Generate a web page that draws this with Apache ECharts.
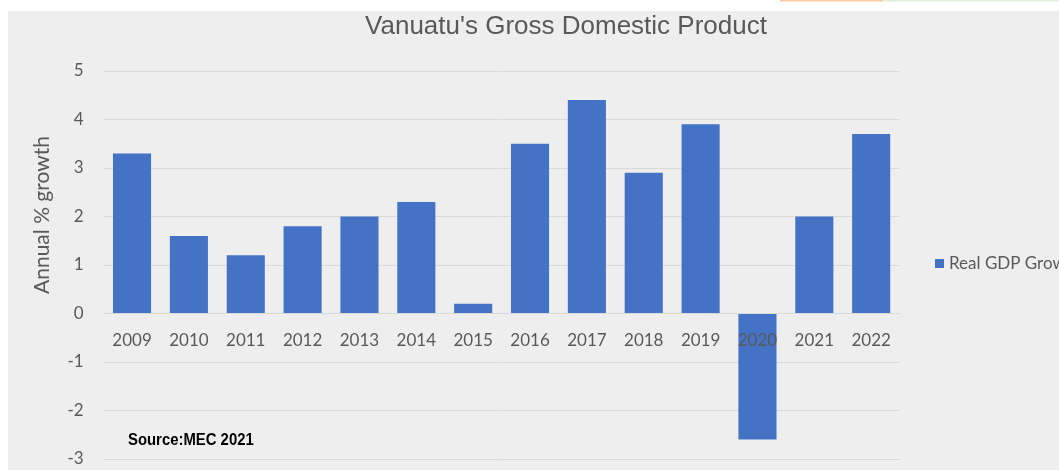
<!DOCTYPE html>
<html>
<head>
<meta charset="utf-8">
<script src="https://cdn.jsdelivr.net/npm/echarts@6/dist/echarts.min.js"></script>
<style>
html,body{margin:0;padding:0;background:#fff;}
#c{width:1059px;height:470px;}
</style>
</head>
<body>
<div id="c"></div>
<script>
var categories = ['2009','2010','2011','2012','2013','2014','2015','2016','2017','2018','2019','2020','2021','2022'];
var gdpGrowth = [3.3, 1.6, 1.2, 1.8, 2.0, 2.3, 0.2, 3.5, 4.4, 2.9, 3.9, -2.6, 2.0, 3.7];
var seriesName = 'Real GDP Growth';
var titleText = "Vanuatu's Gross Domestic Product";
var yAxisTitle = 'Annual % growth';
var sourceText = 'Source:MEC 2021';
var yMin = -3, yMax = 5;

var gridTop = 71, gridBottom = 11, H = 470;
var unitPx = (H - gridTop - gridBottom) / (yMax - yMin);

var chart = echarts.init(document.getElementById('c'));
chart.setOption({
  backgroundColor: '#ffffff',
  animation: false,
  title: {
    text: titleText,
    left: 561, top: 9, textAlign: 'center',
    textStyle: {fontFamily: 'Liberation Sans', fontSize: 26, fontWeight: 'normal', color: '#595959'}
  },
  legend: {
    data: [seriesName],
    left: 935, top: 255, padding: 0,
    itemWidth: 9, itemHeight: 9, itemGap: 5,
    icon: 'rect',
    textStyle: {fontFamily: 'Lato', fontSize: 17, color: '#595959'}
  },
  grid: {left: 103.6, right: 159.4, top: gridTop, bottom: gridBottom, containLabel: false, outerBoundsMode: 'none'},
  xAxis: {
    type: 'category',
    data: categories,
    offset: yMin * unitPx,
    axisLine: {onZero: false, lineStyle: {color: '#d9d9d9', width: 1}},
    axisTick: {show: false},
    axisLabel: {margin: 19, fontFamily: 'Lato', fontSize: 17, color: '#595959'},
    z: 3
  },
  yAxis: {
    type: 'value',
    min: yMin, max: yMax, interval: 1,
    axisLine: {show: false},
    axisTick: {show: false},
    axisLabel: {margin: 20, fontFamily: 'Lato', fontSize: 17, color: '#595959'},
    splitLine: {lineStyle: {color: '#d9d9d9', width: 1}}
  },
  graphic: [
    {type: 'rect', z: -10, silent: true, shape: {x: 8, y: 11, width: 1051, height: 459}, style: {fill: '#eeeeee'}},
    {type: 'rect', z: -9, silent: true, shape: {x: 780, y: 0, width: 103, height: 1.5}, style: {fill: '#f8c9a6'}},
    {type: 'rect', z: -9, silent: true, shape: {x: 883, y: 0, width: 176, height: 1.5}, style: {fill: '#e2efd9'}},
    {type: 'text', x: 42, y: 215, rotation: Math.PI / 2,
      style: {text: yAxisTitle, fontFamily: 'Lato', fontSize: 21, fill: '#595959', align: 'center', verticalAlign: 'middle'}},
    {type: 'text', x: 128, y: 441, scaleX: 0.93,
      style: {text: sourceText, fontFamily: 'Liberation Sans', fontWeight: 'bold', fontSize: 16, fill: '#000000', align: 'left', verticalAlign: 'middle'}}
  ],
  series: [{
    name: seriesName,
    type: 'bar',
    data: gdpGrowth,
    barWidth: '67%',
    itemStyle: {color: '#4472c4'}
  }]
});
</script>
</body>
</html>
